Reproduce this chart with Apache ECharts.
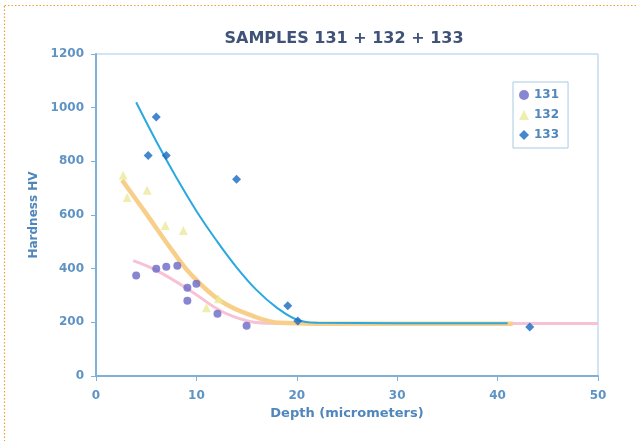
<!DOCTYPE html>
<html><head><meta charset="utf-8">
<script src="https://cdn.jsdelivr.net/npm/echarts@6/dist/echarts.min.js"></script>
<style>html,body{margin:0;padding:0;background:#fff}#c{width:637px;height:441px}</style>
</head><body><div id="c"></div>
<script>
const titleText = 'SAMPLES 131 + 132 + 133';
const xTicks = [0, 10, 20, 30, 40, 50];
const yTicks = [0, 200, 400, 600, 800, 1000, 1200];
// sample 131 points [depth, HV]
const s131 = [[4.0,375],[6.0,400],[7.0,407],[8.1,411],[9.1,329],[10.0,344],[9.1,280],[12.1,232],[15.0,187]];
// sample 132 points
const s132 = [[2.7,748],[3.1,665],[5.1,692],[6.9,561],[8.7,542],[11.0,254],[12.2,288]];
// sample 133 points
const s133 = [[6.0,965],[5.2,822],[7.0,822],[14.0,733],[19.1,262],[20.1,205],[43.2,183]];
// fitted trend curves
const fit131 = [[3.7,430],[6.1,392],[9.4,318],[12.4,243],[15.0,206],[17.0,197],[20,196],[30,196],[40,196],[50,196]];
const fit132 = [[2.6,730],[5.0,605],[7.6,467],[9.4,381],[12.4,280],[15.6,224],[18.3,198],[22,195],[30,195],[41.5,195]];
const fit133 = [[4.0,1020],[6.0,875],[8.0,740],[10.0,615],[12.0,505],[14.0,405],[16.0,320],[18.0,255],[20.0,210],[22,198],[30,197],[41,197]];

const FONT = 'DejaVu Sans';
const lab = {color:'#5f93c4', fontWeight:'bold', fontSize:12, fontFamily:FONT};
const chart = echarts.init(document.getElementById('c'));
chart.setOption({
  animation:false,
  title:{text:titleText, left:339, top:26, textAlign:'center',
    textStyle:{color:'#3f5277', fontSize:16, fontWeight:'bold', fontFamily:FONT}},
  graphic:[{type:'rect', shape:{x:4.5,y:5.5,width:650,height:450},
    style:{fill:'none', stroke:'#f0a030', lineWidth:1.2, lineDash:[1.5,2]}, silent:true}],
  legend:{orient:'vertical', left:513, top:82, itemGap:8, itemWidth:10, itemHeight:10,
    padding:[7,9,7,6], borderColor:'#a9cbe4', borderWidth:1,
    textStyle:{color:'#4f86bb', fontWeight:'bold', fontSize:12, fontFamily:FONT},
    data:['131','132','133']},
  grid:{left:96, right:39, top:54, bottom:65, show:true, borderColor:'#a9cbe4', borderWidth:1},
  xAxis:{type:'value', min:0, max:50, interval:10,
    name:'Depth (micrometers)', nameLocation:'middle', nameGap:31,
    nameTextStyle:{color:'#4f86bb', fontWeight:'bold', fontSize:13, fontFamily:FONT},
    axisLine:{lineStyle:{color:'#7fb0d8', width:2}}, axisTick:{show:true, lineStyle:{color:'#7fb0d8'}},
    splitLine:{show:false}, axisLabel:Object.assign({margin:14, formatter:v=>String(v)}, lab)},
  yAxis:{type:'value', min:0, max:1200, interval:200,
    name:'Hardness HV', nameLocation:'middle', nameGap:52, nameRotate:90,
    nameTextStyle:{color:'#4f86bb', fontWeight:'bold', fontSize:12, fontFamily:FONT},
    axisLine:{show:true, lineStyle:{color:'#7fb0d8', width:2}}, axisTick:{show:true, lineStyle:{color:'#7fb0d8'}},
    splitLine:{show:false}, axisLabel:Object.assign({margin:12, formatter:v=>String(v)}, lab)},
  series:[
    {name:'fit131', type:'line', data:fit131, smooth:0.4, symbol:'none', lineStyle:{color:'#f7c2d6', width:3}, z:1},
    {name:'fit132', type:'line', data:fit132, smooth:0.4, symbol:'none', lineStyle:{color:'#f8cf8a', width:4.5}, z:2},
    {name:'fit133', type:'line', data:fit133, smooth:0.4, symbol:'none', lineStyle:{color:'#2aa8e0', width:2}, z:3},
    {name:'131', type:'scatter', data:s131, symbol:'circle', symbolSize:8, itemStyle:{color:'#6a68c8'}, z:5},
    {name:'132', type:'scatter', data:s132, symbol:'triangle', symbolSize:9, itemStyle:{color:'#ecea9a'}, z:4},
    {name:'133', type:'scatter', data:s133, symbol:'diamond', symbolSize:9, itemStyle:{color:'#1769c2'}, z:6}
  ]
});
</script></body></html>
